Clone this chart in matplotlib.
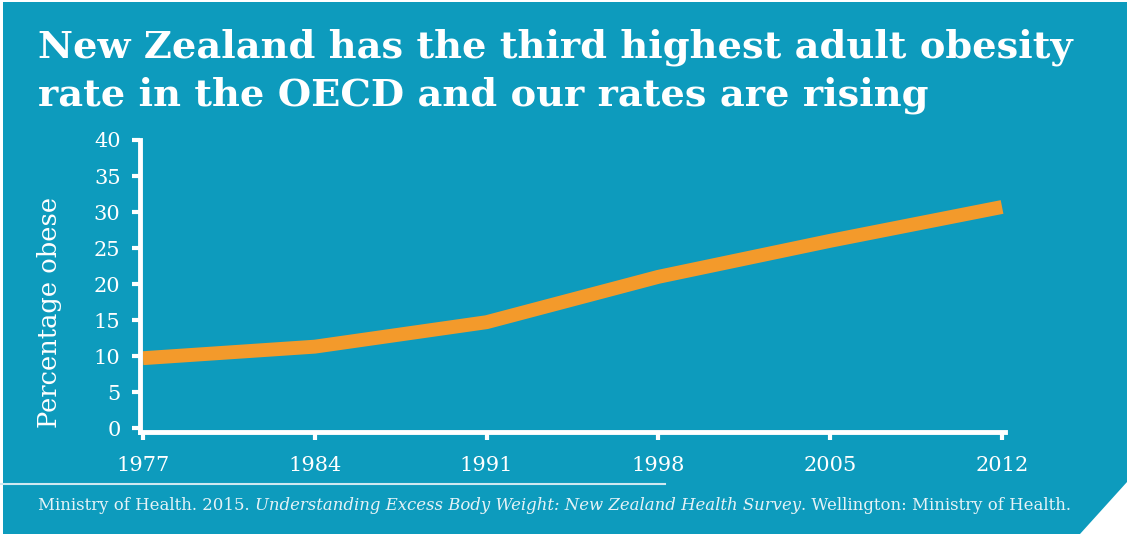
import matplotlib
matplotlib.use("Agg")
import matplotlib.pyplot as plt
from matplotlib.patches import Polygon, Rectangle
from matplotlib.lines import Line2D

years = [1977, 1984, 1991, 1998, 2005, 2012]
obesity = [9.7, 11.3, 14.7, 21.0, 26.0, 30.7]
yticks = [0, 5, 10, 15, 20, 25, 30, 35, 40]
title_lines = ["New Zealand has the third highest adult obesity",
               "rate in the OECD and our rates are rising"]
ylabel = "Percentage obese"
source_plain1 = "Ministry of Health. 2015. "
source_italic = "Understanding Excess Body Weight: New Zealand Health Survey"
source_plain2 = ". Wellington: Ministry of Health."

BG = "#0d9bbd"
ORANGE = "#f39a2b"
W, H = 1127, 534
fig = plt.figure(figsize=(W / 100, H / 100), dpi=100)
fig.patch.set_facecolor("white")
fig.patches.append(Rectangle((3 / W, 0), 1 - 3 / W, 1 - 2 / H, transform=fig.transFigure,
                             facecolor=BG, edgecolor="none", zorder=-3))
fig.patches.append(Polygon([(1080 / W, 0), (1, 0), (1, 1 - 482 / H)], closed=True,
                           transform=fig.transFigure, facecolor="white", edgecolor="none", zorder=-2))

serif = "DejaVu Serif"
for txt, base in zip(title_lines, [57, 105]):
    fig.text(38 / W, 1 - base / H, txt, ha="left", va="baseline", color="white",
             fontsize=27.6, fontweight="bold", family=serif)

left, right = 140, 1005
bottom, top = 432, 140
ax = fig.add_axes([left / W, 1 - bottom / H, (right - left) / W, (bottom - top) / H])
ax.set_facecolor("none")
ax.plot(years, obesity, color=ORANGE, lw=10, solid_capstyle="butt", solid_joinstyle="round")
ax.set_xlim(1976.88, 2012.12)
ax.set_ylim(-0.55, 40)
ax.set_xticks(years)
ax.set_yticks(yticks)
for s in ["top", "right"]:
    ax.spines[s].set_visible(False)
for s in ["left", "bottom"]:
    ax.spines[s].set_color("white")
    ax.spines[s].set_linewidth(3.5)
ax.tick_params(colors="white", width=3, length=6, labelsize=15, pad=8)
ax.tick_params(axis="x", pad=11)
for lab in ax.get_xticklabels() + ax.get_yticklabels():
    lab.set_family(serif)
ax.set_ylabel(ylabel, color="white", fontsize=18.5, family=serif, labelpad=10)
ax.yaxis.set_label_coords(-0.09, 0.41)

fig.add_artist(Line2D([0, 665 / W], [1 - 484 / H, 1 - 484 / H], transform=fig.transFigure,
                      color="#cfe9f1", lw=1.5))

y_src = 1 - 506 / H
fs = 11.9
t1 = fig.text(38 / W, y_src, source_plain1, ha="left", va="center", color="#e6f3f7",
              fontsize=fs, family=serif)
fig.canvas.draw()
r = fig.canvas.get_renderer()
bb = t1.get_window_extent(r)
t2 = fig.text(bb.x1 / W, y_src, source_italic, ha="left", va="center", color="#e6f3f7",
              fontsize=fs, family=serif, style="italic")
bb2 = t2.get_window_extent(r)
fig.text(bb2.x1 / W, y_src, source_plain2, ha="left", va="center", color="#e6f3f7",
         fontsize=fs, family=serif)

fig.savefig("out.png", dpi=100, facecolor=fig.get_facecolor())
